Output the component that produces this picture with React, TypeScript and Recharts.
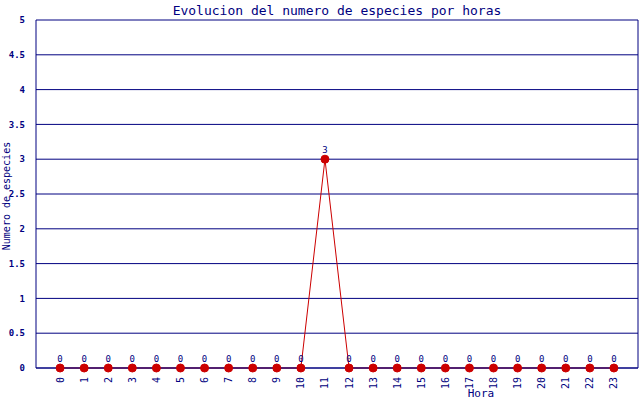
import { LineChart, Line, XAxis, YAxis, CartesianGrid, ReferenceLine, LabelList } from 'recharts';

const hours = [0, 1, 2, 3, 4, 5, 6, 7, 8, 9, 10, 11, 12, 13, 14, 15, 16, 17, 18, 19, 20, 21, 22, 23];
const species = [0, 0, 0, 0, 0, 0, 0, 0, 0, 0, 0, 3, 0, 0, 0, 0, 0, 0, 0, 0, 0, 0, 0, 0];
const yTicks = [0, 0.5, 1, 1.5, 2, 2.5, 3, 3.5, 4, 4.5, 5];

const NAVY = '#000080';
const RED = '#cc0000';
const FONT = '"DejaVu Sans Mono", monospace';

const data = hours.map((h, i) => ({ hora: h, especies: species[i] }));

function HourTick(props: any) {
  const { x, y, payload } = props;
  return (
    <text
      x={x}
      y={y}
      transform={`rotate(-90, ${x}, ${y})`}
      textAnchor="end"
      dominantBaseline="central"
      fontSize={10}
      fontFamily={FONT}
      fill={NAVY}
    >
      {payload.value}
    </text>
  );
}

function YTitle() {
  return (
    <text
      x={6}
      y={196}
      transform="rotate(-90, 6, 196)"
      textAnchor="middle"
      dominantBaseline="central"
      fontSize={10}
      fontFamily={FONT}
      fill={NAVY}
    >
      Numero de especies
    </text>
  );
}

export default function App() {
  return (
    <div style={{ position: 'absolute', left: 0, top: 0, width: 640, height: 400, background: '#fff' }}>
      <LineChart width={640} height={400} data={data} margin={{ top: 20, right: 2, bottom: 0, left: 0 }}>
        <text x={337} y={10} textAnchor="middle" dominantBaseline="central" fontSize={13} fontFamily={FONT} fill={NAVY}>
          Evolucion del numero de especies por horas
        </text>
        <text x={481} y={393} textAnchor="middle" dominantBaseline="central" fontSize={11} fontFamily={FONT} fill={NAVY}>
          Hora
        </text>
        <CartesianGrid vertical={false} stroke={NAVY} strokeWidth={1} />
        <XAxis
          dataKey="hora"
          type="number"
          domain={[-1, 24]}
          ticks={hours}
          interval={0}
          axisLine={{ stroke: NAVY }}
          tickLine={false}
          tick={<HourTick />}
          tickMargin={3}
          height={32}
        />
        <YAxis
          domain={[0, 5]}
          ticks={yTicks}
          interval={0}
          width={36}
          axisLine={{ stroke: NAVY }}
          tickLine={false}
          tickMargin={5}
          tick={{ fontSize: 9, fontFamily: FONT, fill: NAVY, fontWeight: 'bold' }}
          label={{ content: () => <YTitle /> }}
        />
        <ReferenceLine x={24} stroke={NAVY} />
        <Line
          type="linear"
          dataKey="especies"
          stroke={RED}
          strokeWidth={1}
          dot={{ r: 4, fill: RED, stroke: RED, strokeWidth: 1 }}
          isAnimationActive={false}
        >
          <LabelList dataKey="especies" position="top" offset={6} fontSize={9} fontFamily={FONT} fill={NAVY} />
        </Line>
      </LineChart>
    </div>
  );
}
